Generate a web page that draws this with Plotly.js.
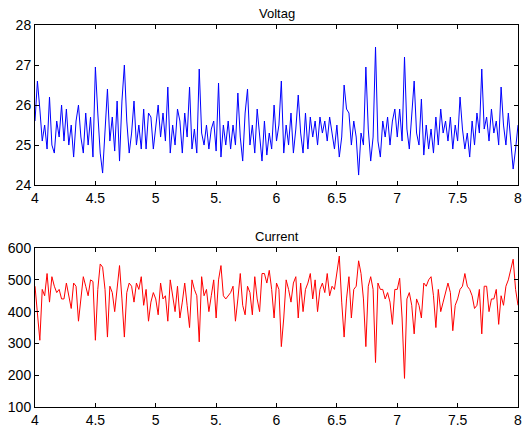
<!DOCTYPE html>
<html>
<head>
<meta charset="utf-8">
<script src="https://cdn.plot.ly/plotly-3.0.1.min.js"></script>
<style>html,body{margin:0;padding:0;background:#fff;}#chart{width:526px;height:430px;}</style>
</head>
<body>
<div id="chart"></div>
<script>
// x positions: 4.00 to 8.00, step 0.02 (201 samples)
const xStart = 4.0;
const xStep = 0.02;

const voltage = [
  25.6, 26.6, 25.9, 25.1, 25.5, 24.9, 26.2, 25.0, 24.8, 25.6,
  25.2, 26.0, 25.1, 25.9, 25.0, 25.5, 24.7, 25.6, 26.0, 25.2,
  24.8, 25.8, 25.0, 25.7, 24.7, 26.95, 25.8, 24.8, 24.3, 25.4,
  26.4, 25.1, 25.7, 24.85, 26.1, 24.6, 26.1, 27.0, 25.6, 24.8,
  25.3, 26.1, 25.0, 25.5, 24.9, 25.9, 24.9, 25.8, 25.7, 24.9,
  25.4, 26.0, 25.2, 25.8, 25.1, 26.45, 24.8, 25.5, 25.0, 25.9,
  25.6, 24.8, 25.8, 25.2, 26.45, 24.9, 25.4, 24.8, 26.9, 25.3,
  25.0, 25.5, 24.9, 25.4, 25.6, 24.85, 26.55, 24.7, 25.5, 25.0,
  25.6, 24.9, 25.5, 25.0, 26.3, 25.2, 24.6, 25.8, 26.4, 25.0,
  25.5, 24.8, 25.9, 25.3, 24.6, 25.6, 24.75, 25.3, 24.9, 26.0,
  25.1, 25.5, 26.6, 24.8, 25.5, 25.0, 25.8, 24.8, 25.4, 26.25,
  25.3, 24.8, 25.8, 24.9, 25.7, 25.2, 25.6, 25.0, 25.7, 25.3,
  25.6, 25.1, 25.7, 25.3, 24.9, 25.5, 24.7, 25.2, 26.5, 25.9,
  25.8, 25.0, 25.6, 25.2, 24.25, 25.3, 25.0, 26.95, 25.4, 24.6,
  25.2, 27.45, 25.1, 24.7, 25.6, 25.2, 25.7, 25.0, 25.6, 25.9,
  25.2, 25.9, 25.1, 27.2, 25.4, 24.9, 25.7, 26.6, 25.3, 25.0,
  26.15, 24.75, 25.5, 24.9, 25.4, 24.8, 25.7, 25.0, 25.9, 25.3,
  25.6, 25.1, 25.7, 24.9, 25.5, 25.1, 26.2, 25.4, 24.9, 25.3,
  24.7, 25.6, 25.0, 25.8, 25.3, 26.9, 25.4, 25.7, 25.1, 25.9,
  25.3, 25.6, 25.0, 26.45, 25.5, 25.0, 25.8, 25.0, 24.4, 24.9, 25.5
];

const current = [
  480, 400, 310, 470, 450, 520, 430, 510, 480, 460,
  470, 440, 440, 490, 450, 410, 490, 480, 370, 450,
  510, 480, 450, 500, 495, 310, 470, 550, 540, 470,
  320, 480, 460, 400, 470, 545, 440, 320, 460, 490,
  480, 430, 490, 470, 510, 420, 470, 370, 430, 460,
  440, 390, 490, 440, 450, 370, 500, 450, 400, 480,
  380, 430, 490, 420, 350, 500, 470, 450, 305, 510,
  450, 470, 400, 450, 500, 380, 500, 545, 450, 440,
  450, 460, 480, 370, 440, 520, 420, 390, 480, 460,
  390, 510, 440, 400, 520, 520, 490, 530, 470, 380,
  490, 470, 290, 380, 500, 470, 430, 490, 510, 380,
  490, 400, 470, 490, 520, 440, 500, 400, 470, 490,
  460, 520, 450, 480, 470, 520, 575, 430, 320, 440,
  510, 380, 470, 480, 560, 520, 440, 290, 480, 510,
  470, 240, 490, 470, 470, 440, 460, 430, 360, 470,
  470, 505, 380, 190, 440, 460, 420, 330, 440, 420,
  380, 490, 480, 500, 510, 450, 350, 470, 400, 430,
  460, 490, 460, 340, 420, 440, 470, 480, 520, 480,
  470, 450, 410, 420, 470, 330, 480, 480, 400, 440,
  440, 470, 360, 450, 420, 480, 500, 530, 565, 470, 420
];

const xTickVals = [4, 4.5, 5, 5.5, 6, 6.5, 7, 7.5, 8];
const xTickText = ["4", "4.5", "5", "5.", "6", "6.5", "7", "7.5", "8"];
const vTicks = [24, 25, 26, 27, 28];
const cTicks = [100, 200, 300, 400, 500, 600];

const xs = voltage.map((_, i) => +(xStart + i * xStep).toFixed(4));
const xsC = current.map((_, i) => +(xStart + i * xStep).toFixed(4));

const font = {family: "Liberation Sans, Arial, sans-serif", size: 14, color: "#000"};

const axisCommon = {
  showgrid: false, zeroline: false, showline: true, linecolor: "#000", linewidth: 1,
  mirror: "ticks", ticks: "inside", ticklen: 4, tickcolor: "#000", tickwidth: 1,
  tickfont: font
};

const data = [
  {x: xs, y: voltage, type: "scatter", mode: "lines", line: {color: "#0000ff", width: 1}, xaxis: "x", yaxis: "y", hoverinfo: "skip"},
  {x: xsC, y: current, type: "scatter", mode: "lines", line: {color: "#ff0000", width: 1}, xaxis: "x2", yaxis: "y2", hoverinfo: "skip"}
];

const layout = {
  width: 526, height: 430,
  margin: {l: 35, r: 8, t: 25, b: 23},
  paper_bgcolor: "#fff", plot_bgcolor: "#fff",
  showlegend: false,
  font: font,
  xaxis: Object.assign({}, axisCommon, {domain: [0, 1], range: [4, 8], tickvals: xTickVals, ticktext: xTickText, anchor: "y"}),
  yaxis: Object.assign({}, axisCommon, {domain: [0.581, 1], range: [24, 28], tickvals: vTicks, anchor: "x"}),
  xaxis2: Object.assign({}, axisCommon, {domain: [0, 1], range: [4, 8], tickvals: xTickVals, ticktext: xTickText, anchor: "y2"}),
  yaxis2: Object.assign({}, axisCommon, {domain: [0, 0.416], range: [100, 600], tickvals: cTicks, anchor: "x2"}),
  annotations: [
    {text: "Voltag", xref: "paper", yref: "paper", x: 0.5, y: 1, yshift: 2, xanchor: "center", yanchor: "bottom", showarrow: false, font: {family: font.family, size: 13, color: "#000"}},
    {text: "Current", xref: "paper", yref: "paper", x: 0.5, y: 0.416, yshift: 2, xanchor: "center", yanchor: "bottom", showarrow: false, font: {family: font.family, size: 13, color: "#000"}}
  ]
};

Plotly.newPlot("chart", data, layout, {displayModeBar: false, staticPlot: true});
</script>
</body>
</html>
